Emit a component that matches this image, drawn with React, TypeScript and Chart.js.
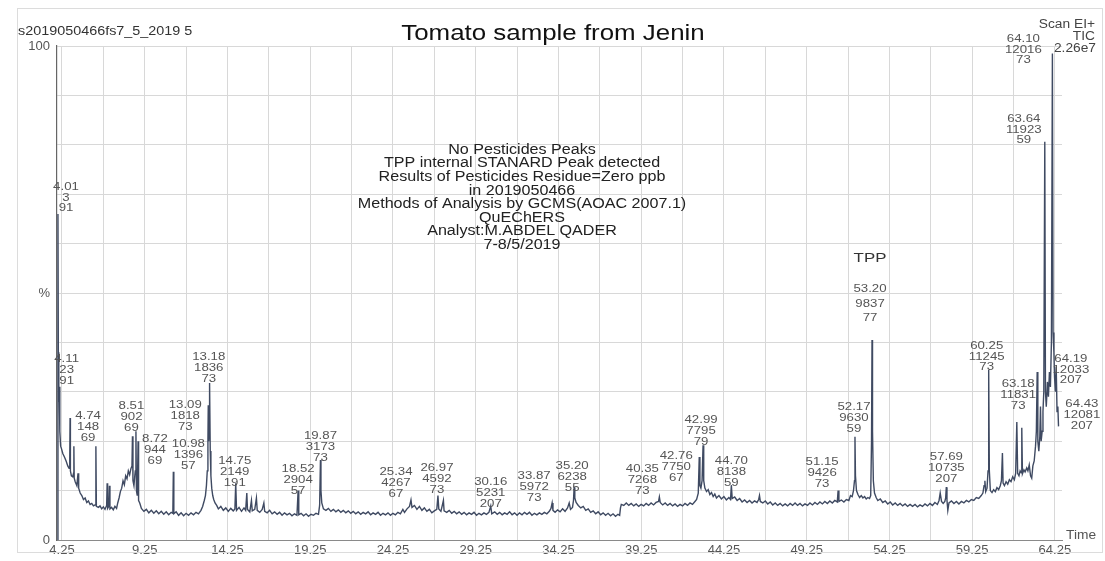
import React, { useEffect, useRef } from 'react';
import { Chart, registerables } from 'chart.js';

Chart.register(...registerables);

const FONT = '"Liberation Sans", Arial, Helvetica, sans-serif';

// ---------- text content ----------
const sampleId = 's2019050466fs7_5_2019 5';
const chartTitle = 'Tomato sample from Jenin';
const scanInfo = ['Scan EI+', 'TIC', '2.26e7'];
const noteLines = [
  'No Pesticides Peaks',
  'TPP internal STANARD Peak detected',
  'Results of Pesticides Residue=Zero ppb',
  'in 2019050466',
  'Methods of Analysis by GCMS(AOAC 2007.1)',
  'QuEChERS',
  'Analyst:M.ABDEL QADER',
  '7-8/5/2019',
];
const tppLabel = 'TPP';
const xAxisName = 'Time';

// ---------- axes ----------
const xTickLabels = ['4.25', '9.25', '14.25', '19.25', '24.25', '29.25', '34.25', '39.25', '44.25', '49.25', '54.25', '59.25', '64.25'];
const xGridTimes = [4.25, 6.75, 9.25, 11.75, 14.25, 16.75, 19.25, 21.75, 24.25, 26.75, 29.25, 31.75, 34.25, 36.75, 39.25, 41.75, 44.25, 46.75, 49.25, 51.75, 54.25, 56.75, 59.25, 61.75, 64.25];
const yGridValues = [0, 10, 20, 30, 40, 50, 60, 70, 80, 90, 100];
const yTickText: Record<number, string> = { 0: '0', 50: '%', 100: '100' };

// ---------- peak annotations ----------
const peakTimes = ['4.01', '4.11', '4.74', '8.51', '8.72', '10.98', '13.09', '13.18', '14.75', '18.52', '19.87', '25.34', '26.97', '30.16', '33.87', '35.20', '40.35', '42.76', '42.99', '44.70', '51.15', '52.17', '53.20', '57.69', '60.25', '63.18', '63.64', '64.10', '64.19', '64.43'];
const peakScans = ['3', '23', '148', '902', '944', '1396', '1818', '1836', '2149', '2904', '3173', '4267', '4592', '5231', '5972', '6238', '7268', '7750', '7795', '8138', '9426', '9630', '9837', '10735', '11245', '11831', '11923', '12016', '12033', '12081'];
const peakMasses = ['91', '91', '69', '69', '69', '57', '73', '73', '191', '57', '73', '67', '73', '207', '73', '55', '73', '67', '79', '59', '73', '59', '77', '207', '73', '73', '59', '73', '207', '207'];
// layout only: [dx from peak, top y of first line, line gap]
const peakLabelLayout: [number, number, number][] = [
  [8, 183, 10.5], [7, 355, 11], [18, 412, 11], [-1, 402, 11], [19, 435, 11], [15, 440, 11],
  [-23, 401, 11], [-1, 353, 11], [-1, 457, 11], [0, 465, 11], [0, 432, 11], [-15, 468, 11],
  [-1, 464, 11], [0, 478, 11], [-18, 472, 11], [-2, 462, 11], [-17, 465, 11], [-23, 452, 11],
  [-2, 416, 11], [0, 457, 11], [-16, 458, 11], [-1, 403, 11], [-2, 285, 14.5], [0, 453, 11],
  [-2, 342, 10.5], [-19, 380, 11], [-21, 115, 10.5], [-29, 35, 10.5], [17, 355, 10.5], [24, 400, 11],
];

// ---------- TIC trace (time min, % intensity) ----------
const traceEarly: [number, number][] = [
  [4.0, 0], [4.005, 40], [4.01, 66], [4.03, 38], [4.06, 28], [4.09, 30], [4.11, 31], [4.13, 22], [4.17, 19], [4.22, 18.5],
  [4.3, 17.5], [4.4, 16.8], [4.5, 16], [4.6, 15], [4.68, 14.5], [4.72, 16], [4.74, 24.7], [4.76, 14], [4.82, 13], [4.9, 12.8],
  [4.95, 13.5], [4.97, 19], [4.99, 12.5], [5.05, 11.8], [5.15, 11], [5.22, 13.5], [5.26, 10.5], [5.35, 9.5], [5.45, 9], [5.55, 8.2],
  [5.65, 8.5], [5.75, 7.6], [5.85, 7.9], [5.95, 7.2], [6.05, 7.4], [6.15, 6.9], [6.25, 7.1], [6.3, 19], [6.33, 6.8], [6.45, 6.6],
  [6.55, 6.9], [6.65, 6.3], [6.75, 6.7], [6.85, 6.2], [6.95, 7], [6.98, 11.5], [7.01, 6.4], [7.08, 6.8], [7.12, 11], [7.15, 6.3],
  [7.25, 6.6], [7.35, 6.1], [7.45, 6.8], [7.55, 6.4], [7.62, 7.5], [7.7, 8.5], [7.78, 9.8], [7.86, 10.5], [7.94, 12], [8.02, 11.2],
  [8.1, 13], [8.18, 12.4], [8.26, 14], [8.34, 13.2], [8.42, 14.5], [8.48, 15], [8.51, 21], [8.54, 12], [8.6, 11], [8.65, 13],
  [8.68, 14], [8.72, 22], [8.75, 10], [8.8, 9], [8.85, 20], [8.88, 8], [8.95, 7.5], [9.05, 6.4], [9.2, 5.8], [9.35, 6.2],
  [9.5, 5.5], [9.65, 6], [9.8, 5.4], [9.95, 5.9], [10.1, 5.3], [10.25, 5.8], [10.4, 5.2], [10.55, 5.7], [10.7, 5.1], [10.85, 5.6],
  [10.95, 5.4], [10.98, 13.8], [11.01, 5.3], [11.15, 5.7], [11.3, 5], [11.45, 5.5], [11.6, 4.9], [11.75, 5.4], [11.9, 5], [12.05, 5.5],
  [12.2, 5.1], [12.35, 5.6], [12.5, 5.3], [12.65, 6], [12.75, 6.8], [12.85, 8], [12.92, 9], [12.98, 11], [13.03, 14], [13.07, 20],
  [13.09, 27.3], [13.11, 20], [13.14, 22], [13.16, 28], [13.18, 31.8], [13.21, 18], [13.25, 13], [13.3, 10.5], [13.36, 9], [13.42, 8.2],
  [13.5, 7.5], [13.6, 7], [13.7, 6.3], [13.85, 6.8], [14.0, 6], [14.15, 6.5], [14.3, 5.8], [14.45, 6.4], [14.6, 5.9], [14.7, 6.3],
  [14.75, 11.5], [14.8, 6], [14.95, 6.6], [15.1, 5.8], [15.25, 6.5], [15.35, 6], [15.42, 9.5], [15.46, 6.2], [15.6, 5.7], [15.7, 8],
  [15.75, 5.9], [15.9, 6.2], [16.0, 8.5], [16.05, 6], [16.2, 5.6], [16.35, 6.2], [16.45, 7.5], [16.5, 5.8], [16.65, 5.5], [16.8, 6],
  [16.95, 5.3], [17.1, 5.7], [17.25, 5.2], [17.4, 5.6], [17.55, 5], [17.7, 5.5], [17.85, 5.1], [18.0, 5.4], [18.15, 4.9], [18.3, 5.3],
  [18.45, 5], [18.52, 10], [18.56, 5.1], [18.7, 5.4], [18.85, 4.9], [19.0, 5.3], [19.15, 4.8], [19.3, 5.2], [19.45, 5], [19.6, 5.4],
  [19.75, 5.2], [19.82, 7], [19.87, 16.2], [19.9, 10], [19.95, 7.5], [20.05, 6.3], [20.2, 6], [20.35, 6.4], [20.5, 5.8], [20.65, 6.2],
];
const traceMid: [number, number][] = [
  [20.8, 5.7], [20.95, 6.1], [21.1, 5.6], [21.25, 6], [21.4, 5.5], [21.55, 5.9], [21.7, 5.4], [21.85, 5.8], [22.0, 5.3], [22.15, 5.7],
  [22.3, 5.2], [22.45, 5.6], [22.6, 5.3], [22.75, 5.7], [22.9, 5.1], [23.05, 5.5], [23.2, 5.2], [23.35, 5.6], [23.5, 5], [23.65, 5.4],
  [23.8, 5.1], [23.95, 5.5], [24.1, 5], [24.25, 5.4], [24.4, 5.1], [24.55, 5.6], [24.7, 5.3], [24.85, 6.2], [24.95, 5.6], [25.1, 6.3],
  [25.25, 6.8], [25.34, 8.1], [25.4, 6.6], [25.55, 7], [25.7, 6.2], [25.85, 6.8], [26.0, 6], [26.15, 6.5], [26.3, 5.8], [26.45, 6.2],
  [26.6, 5.5], [26.75, 5.9], [26.9, 6.2], [26.97, 9], [27.02, 6.3], [27.15, 5.8], [27.3, 8], [27.34, 5.9], [27.5, 5.6], [27.65, 6],
  [27.8, 5.4], [27.95, 5.8], [28.1, 5.3], [28.25, 5.7], [28.4, 5.2], [28.55, 5.6], [28.7, 5.1], [28.85, 5.5], [29.0, 5.2], [29.15, 5.6],
  [29.3, 5], [29.45, 5.4], [29.6, 5.1], [29.75, 5.5], [29.9, 5.2], [30.05, 5.6], [30.16, 6.9], [30.22, 5.3], [30.4, 5.7], [30.55, 5.2],
  [30.7, 5.6], [30.85, 5.1], [31.0, 5.5], [31.15, 5.2], [31.3, 5.7], [31.45, 5.1], [31.6, 5.5], [31.75, 5], [31.9, 5.5], [32.05, 5.1],
  [32.2, 5.6], [32.35, 5.2], [32.5, 5.6], [32.65, 5], [32.8, 5.4], [32.95, 5.1], [33.1, 5.5], [33.25, 5.2], [33.4, 5.6], [33.55, 5.3],
  [33.7, 5.8], [33.8, 6.4], [33.87, 7.5], [33.92, 6], [34.05, 5.6], [34.2, 6.1], [34.35, 5.7], [34.5, 6.3], [34.65, 5.8], [34.8, 6.5],
  [34.9, 7.5], [34.98, 6.2], [35.1, 6.6], [35.16, 8], [35.2, 10.7], [35.24, 8.5], [35.32, 7.6], [35.45, 7], [35.6, 6.5], [35.75, 6.8],
  [35.9, 6], [36.05, 6.3], [36.2, 5.6], [36.35, 5.9], [36.5, 5.3], [36.65, 5.7], [36.8, 5.1], [36.95, 5.5], [37.1, 5], [37.25, 5.4],
  [37.4, 4.9], [37.55, 5.3], [37.7, 4.8], [37.85, 5.2], [37.95, 5], [38.0, 6.5], [38.05, 7.2], [38.2, 7], [38.35, 7.5], [38.5, 7],
  [38.65, 7.4], [38.8, 6.9], [38.95, 7.3], [39.1, 6.8], [39.25, 7.2], [39.4, 6.9], [39.55, 7.4], [39.7, 7], [39.85, 7.5], [40.0, 7.1],
  [40.15, 7.6], [40.3, 7.8], [40.35, 8.7], [40.4, 7.6], [40.55, 7.1], [40.7, 7.5], [40.85, 7], [41.0, 7.4], [41.15, 6.9], [41.3, 7.3],
  [41.45, 6.8], [41.6, 7.2], [41.75, 6.9], [41.9, 7.4], [42.05, 7], [42.2, 7.5], [42.35, 7.2], [42.5, 7.8], [42.6, 8.2], [42.7, 9.5],
  [42.76, 16.8], [42.8, 11], [42.86, 10.5], [42.93, 12], [42.99, 19.2], [43.03, 12], [43.1, 10.5], [43.2, 9.8], [43.3, 10.2], [43.4, 9.2],
  [43.5, 9.6], [43.6, 8.8], [43.7, 9.3], [43.8, 8.5], [43.95, 9], [44.1, 8.3], [44.25, 8.8], [44.4, 8.1], [44.55, 8.6], [44.65, 8.2],
  [44.7, 11.1], [44.75, 8.4], [44.9, 8.7], [45.05, 8], [45.2, 8.4], [45.35, 7.7], [45.5, 8.1], [45.65, 7.6], [45.8, 8], [45.95, 7.5],
];
const traceLate: [number, number][] = [
  [46.1, 7.9], [46.25, 7.6], [46.35, 8.2], [46.4, 9], [46.45, 7.8], [46.6, 7.5], [46.75, 7.9], [46.9, 7.3], [47.05, 7.7], [47.2, 7.1],
  [47.35, 7.5], [47.5, 7], [47.65, 7.4], [47.8, 6.9], [47.95, 7.3], [48.1, 6.9], [48.25, 7.4], [48.4, 7], [48.55, 7.5], [48.7, 7],
  [48.85, 7.4], [49.0, 6.9], [49.15, 7.3], [49.3, 7], [49.45, 7.5], [49.6, 7.1], [49.75, 7.6], [49.9, 7.2], [50.05, 7.7], [50.2, 7.3],
  [50.35, 7.8], [50.5, 7.4], [50.65, 7.9], [50.8, 7.5], [50.95, 8], [51.1, 7.7], [51.15, 10], [51.2, 7.8], [51.35, 8.1], [51.5, 7.7],
  [51.65, 8.2], [51.8, 8], [51.9, 9], [52.0, 8.8], [52.08, 10], [52.14, 12], [52.17, 20.9], [52.2, 13], [52.26, 10], [52.35, 9.2],
  [52.45, 8.6], [52.55, 9], [52.65, 8.5], [52.75, 8.8], [52.85, 8.3], [52.95, 8.6], [53.05, 8.4], [53.12, 9], [53.17, 20], [53.2, 40.5],
  [53.23, 22], [53.28, 12], [53.35, 9.5], [53.45, 8.6], [53.55, 8], [53.7, 8.3], [53.85, 7.6], [54.0, 7.9], [54.15, 7.3], [54.3, 7.7],
  [54.45, 7.1], [54.6, 7.5], [54.75, 7], [54.9, 7.4], [55.05, 6.9], [55.2, 7.3], [55.35, 6.8], [55.5, 7.2], [55.65, 6.8], [55.8, 7.2],
  [55.95, 6.7], [56.1, 7.1], [56.25, 6.8], [56.4, 7.3], [56.55, 6.9], [56.7, 7.4], [56.85, 7], [57.0, 7.6], [57.15, 7.2], [57.25, 8],
  [57.32, 9.5], [57.4, 7.8], [57.5, 7.4], [57.6, 7.8], [57.65, 8.5], [57.69, 10.7], [57.73, 8], [57.78, 6], [57.85, 7.5], [58.0, 7.9],
  [58.15, 7.4], [58.3, 7.8], [58.45, 7.3], [58.6, 7.8], [58.75, 7.5], [58.9, 8], [59.05, 7.7], [59.2, 8.2], [59.35, 8], [59.5, 8.6],
  [59.65, 8.4], [59.8, 9], [59.9, 9.5], [59.97, 11], [60.02, 12], [60.07, 9.8], [60.15, 10.5], [60.21, 14], [60.25, 34.4], [60.29, 14],
  [60.35, 10], [60.45, 9.6], [60.55, 10.2], [60.65, 9.8], [60.75, 10.6], [60.85, 10.2], [60.95, 11], [61.02, 12], [61.08, 17.6], [61.12, 11.5],
  [61.2, 11], [61.3, 11.8], [61.4, 11.3], [61.5, 12.2], [61.6, 11.8], [61.7, 12.8], [61.8, 12.2], [61.88, 13.5], [61.95, 23.9], [62.0, 13.5],
  [62.08, 13], [62.15, 14], [62.22, 13.6], [62.25, 22.7], [62.29, 13.4], [62.38, 14.2], [62.45, 13.8], [62.55, 14.6], [62.62, 14], [62.7, 15.2],
  [62.78, 13], [62.85, 12.5], [62.92, 15], [63.0, 16], [63.08, 19], [63.13, 22], [63.18, 34], [63.22, 20], [63.28, 18], [63.34, 21],
  [63.38, 27], [63.42, 20], [63.48, 22], [63.53, 26], [63.58, 30], [63.64, 80.6], [63.68, 30], [63.73, 27], [63.8, 32], [63.86, 29],
  [63.92, 34], [63.98, 31], [64.04, 40], [64.1, 98.5], [64.14, 42], [64.19, 38], [64.23, 33], [64.28, 30], [64.33, 35], [64.38, 26],
  [64.43, 27], [64.47, 23],
];

const STRETCH = 1.15;

function drawText(
  ctx: CanvasRenderingContext2D, text: string, x: number, y: number, size: number,
  align: CanvasTextAlign, color: string, stretch = STRETCH,
) {
  ctx.save();
  ctx.translate(x, y);
  ctx.scale(stretch, 1);
  ctx.font = `${size}px ${FONT}`;
  ctx.textAlign = align;
  ctx.textBaseline = 'middle';
  ctx.fillStyle = color;
  ctx.fillText(text, 0, 0);
  ctx.restore();
}

const overlayPlugin = {
  id: 'chromOverlay',
  afterDraw(chart: any) {
    const ctx: CanvasRenderingContext2D = chart.ctx;
    const xs = chart.scales.x;
    // paper frame
    ctx.save();
    ctx.strokeStyle = '#dcdcdc';
    ctx.lineWidth = 1;
    ctx.strokeRect(17.5, 8.5, 1085, 544);
    ctx.restore();

    drawText(ctx, sampleId, 18, 32, 12.5, 'left', '#333');
    drawText(ctx, chartTitle, 553, 34, 22.5, 'center', '#111');
    drawText(ctx, scanInfo[0], 1095, 25, 12.5, 'right', '#444', 1.1);
    drawText(ctx, scanInfo[1], 1095, 37, 12.5, 'right', '#444', 1.1);
    drawText(ctx, scanInfo[2], 1096, 49, 12.5, 'right', '#444', 1.1);
    drawText(ctx, xAxisName, 1066, 536, 12.5, 'left', '#555', 1.1);

    noteLines.forEach((line, i) => {
      drawText(ctx, line, 522, 150 + i * 13.6, 14, 'center', '#222');
    });
    drawText(ctx, tppLabel, 870, 258, 13.5, 'center', '#333', 1.25);

    peakTimes.forEach((t, i) => {
      const [dx, top, gap] = peakLabelLayout[i];
      const cx = xs.getPixelForValue(parseFloat(t)) + dx;
      const lines = [t, peakScans[i], peakMasses[i]];
      lines.forEach((s, j) => {
        drawText(ctx, s, cx, top + 4 + j * gap, 11.5, 'center', '#555');
      });
    });
  },
};

export default function App() {
  const ref = useRef<HTMLCanvasElement>(null);
  useEffect(() => {
    const canvas = ref.current;
    if (!canvas) return;
    const points = [...traceEarly, ...traceMid, ...traceLate].map(([t, v]) => ({ x: t, y: v }));
    const chart = new Chart(canvas, {
      type: 'line',
      data: {
        datasets: [{
          data: points,
          borderColor: '#3f4a62',
          borderWidth: 1.4,
          pointRadius: 0,
          tension: 0,
          fill: false,
        }],
      },
      options: {
        animation: false,
        responsive: false,
        maintainAspectRatio: false,
        events: [],
        layout: { padding: { top: 46, right: 43, left: 0, bottom: 0 } },
        plugins: { legend: { display: false }, tooltip: { enabled: false }, title: { display: false } },
        scales: {
          x: {
            type: 'linear',
            min: 3.95,
            max: 64.68,
            afterBuildTicks: (s: any) => { s.ticks = xGridTimes.map((v) => ({ value: v })); },
            afterFit: (s: any) => { s.height = 21; },
            ticks: {
              autoSkip: false,
              maxRotation: 0,
              padding: 3,
              color: '#555',
              font: { family: FONT, size: 13 },
              callback: (v: any) => {
                const lbl = Number(v).toFixed(2);
                return xTickLabels.includes(lbl) ? lbl : '';
              },
            },
            grid: { color: '#d8d8d8', drawTicks: false, lineWidth: 1 },
            border: { color: '#8a8a8a', width: 1 },
          },
          y: {
            min: 0,
            max: 100,
            afterBuildTicks: (s: any) => { s.ticks = yGridValues.map((v) => ({ value: v })); },
            afterFit: (s: any) => { s.width = 57; },
            ticks: {
              autoSkip: false,
              padding: 7,
              color: '#555',
              font: { family: FONT, size: 13 },
              callback: (v: any) => yTickText[Number(v)] ?? '',
            },
            grid: { color: '#d8d8d8', drawTicks: false, lineWidth: 1 },
            border: { color: '#666', width: 1.2 },
          },
        },
      },
      plugins: [overlayPlugin],
    } as any);
    return () => chart.destroy();
  }, []);

  return (
    <div style={{ position: 'absolute', left: 0, top: 0, width: 1105, height: 561, background: '#fff' }}>
      <canvas ref={ref} width={1105} height={561} style={{ display: 'block', width: 1105, height: 561 }} />
    </div>
  );
}
